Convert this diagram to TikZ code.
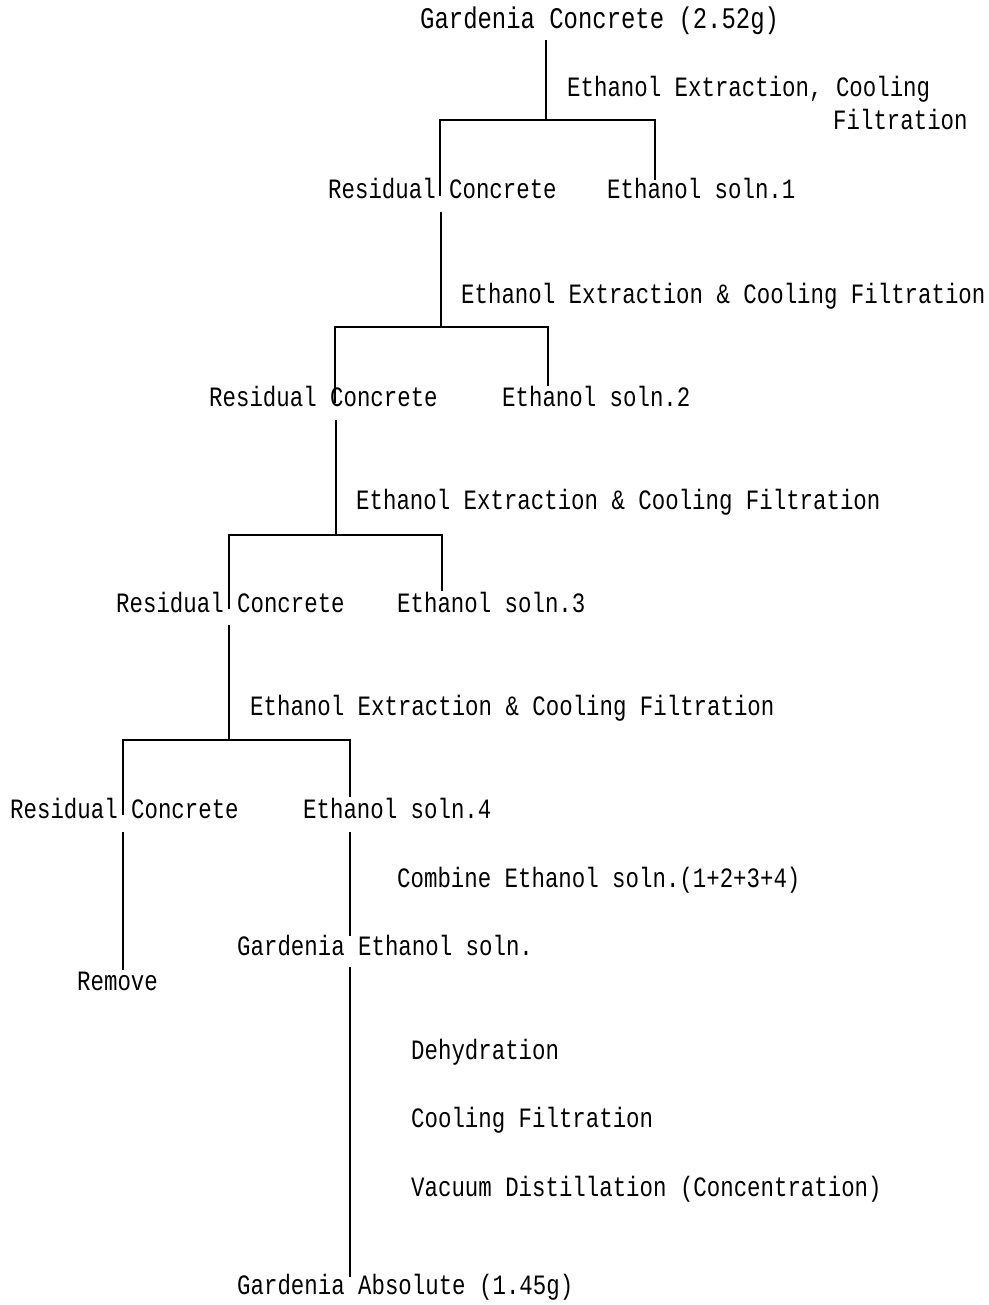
\documentclass[tikz,border=0pt]{standalone}
\usepackage{fontspec}
\newfontfamily\dfont{Liberation Mono}[FakeStretch=0.8]
\begin{document}
\begin{tikzpicture}[x=1pt,y=-1pt,
  lbl/.style={anchor=base west,inner sep=0pt,font=\dfont\fontsize{28}{30}\selectfont},
  ln/.style={line width=1.6pt}]
\useasboundingbox (0,0) rectangle (988,1305);
% texts
\node[lbl,font=\dfont\fontsize{29.9}{31}\selectfont] (top) at (420,29) {Gardenia Concrete (2.52g)};
\node[lbl] (s1a) at (567,97) {Ethanol Extraction, Cooling};
\node[lbl] (s1b) at (833,130) {Filtration};
\node[lbl] (r1) at (328,199) {Residual Concrete};
\node[lbl] (e1) at (607,199) {Ethanol soln.1};
\node[lbl] (s2) at (461,303) {Ethanol Extraction \& Cooling Filtration};
\node[lbl] (r2) at (209,406) {Residual Concrete};
\node[lbl] (e2) at (502,406) {Ethanol soln.2};
\node[lbl] (s3) at (356,509) {Ethanol Extraction \& Cooling Filtration};
\node[lbl] (r3) at (116,612) {Residual Concrete};
\node[lbl] (e3) at (397,612) {Ethanol soln.3};
\node[lbl] (s4) at (250,715) {Ethanol Extraction \& Cooling Filtration};
\node[lbl] (r4) at (10,818) {Residual Concrete};
\node[lbl] (e4) at (303,818) {Ethanol soln.4};
\node[lbl] (comb) at (397,887) {Combine Ethanol soln.(1+2+3+4)};
\node[lbl] (rem) at (77,990) {Remove};
\node[lbl] (ges) at (237,955) {Gardenia Ethanol soln.};
\node[lbl] (dh) at (411,1059) {Dehydration};
\node[lbl] (cf) at (411,1127) {Cooling Filtration};
\node[lbl] (vd) at (411,1196) {Vacuum Distillation (Concentration)};
\node[lbl] (abs) at (237,1294) {Gardenia Absolute (1.45g)};
% junction coordinates
\coordinate (a0) at (546,40);  \coordinate (a1) at (546,120);
\coordinate (a2) at (440,120); \coordinate (a3) at (440,196);
\coordinate (a4) at (655,120); \coordinate (a5) at (655,180);
\coordinate (b0) at (441,212); \coordinate (b1) at (441,327);
\coordinate (b2) at (335,327); \coordinate (b3) at (335,403);
\coordinate (b4) at (548,327); \coordinate (b5) at (548,386);
\coordinate (c0) at (336,420); \coordinate (c1) at (336,535);
\coordinate (c2) at (229,535); \coordinate (c3) at (229,609);
\coordinate (c4) at (442,535); \coordinate (c5) at (442,591);
\coordinate (d0) at (229,625); \coordinate (d1) at (229,740);
\coordinate (d2) at (123,740); \coordinate (d3) at (123,815);
\coordinate (d4) at (350,740); \coordinate (d5) at (350,797);
\coordinate (f0) at (123,832); \coordinate (f1) at (123,970);
\coordinate (g0) at (350,832); \coordinate (g1) at (350,936);
\coordinate (h0) at (350,967); \coordinate (h1) at (350,1277);
% connectors
\draw[ln] (a0) -- (a1);
\draw[ln] (a3) -- (a2) -- (a4) -- (a5);
\draw[ln] (b0) -- (b1);
\draw[ln] (b3) -- (b2) -- (b4) -- (b5);
\draw[ln] (c0) -- (c1);
\draw[ln] (c3) -- (c2) -- (c4) -- (c5);
\draw[ln] (d0) -- (d1);
\draw[ln] (d3) -- (d2) -- (d4) -- (d5);
\draw[ln] (f0) -- (f1);
\draw[ln] (g0) -- (g1);
\draw[ln] (h0) -- (h1);
\end{tikzpicture}
\end{document}
